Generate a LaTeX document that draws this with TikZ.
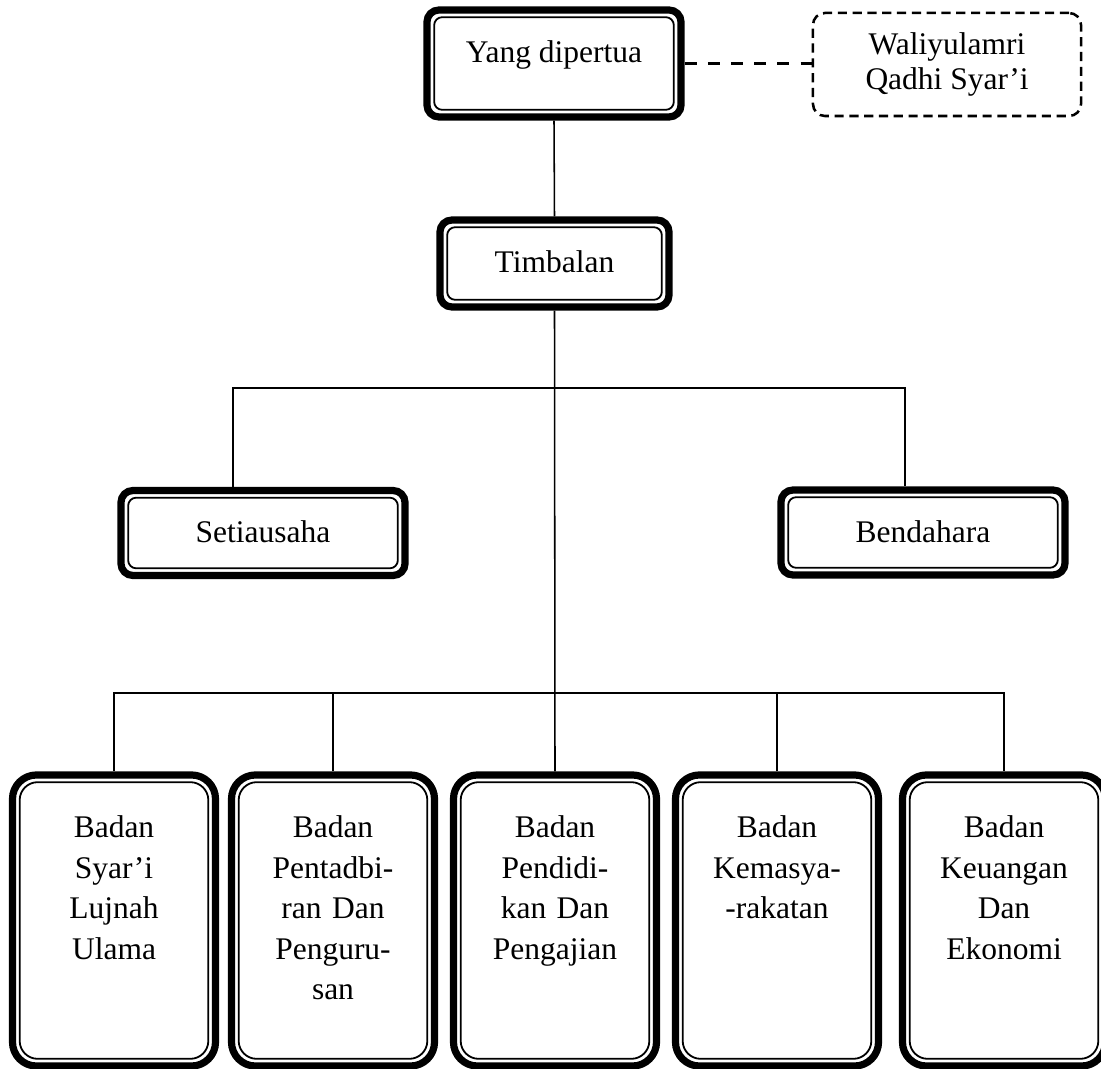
\documentclass[tikz,border=0pt]{standalone}
\usepackage{fontspec}
\setmainfont{Liberation Serif}
\tikzset{
  dalam/.style={path picture={\draw[line width=0.045cm, rounded corners=#1]
    ([shift={(0.18cm,0.18cm)}]path picture bounding box.south west) rectangle
    ([shift={(-0.18cm,-0.18cm)}]path picture bounding box.north east);}},
  kotak/.style={draw, line width=0.18cm, rounded corners=0.3cm, inner sep=0pt,
    minimum width=#1, text height=1.3cm, text depth=0.825cm, dalam=0.2cm},
  badan/.style={draw, line width=0.18cm, rounded corners=0.6cm, inner sep=0pt,
    text width=5.075cm, align=center, text height=1.575cm, text depth=5.7cm, dalam=0.45cm},
  garis/.style={draw, line width=1.1pt},
  putus/.style={draw, line width=1.5pt, dash pattern=on 0.3cm off 0.28cm}
}

\begin{document}
\begin{tikzpicture}[x=0.025cm, y=-0.025cm]
\fontsize{22.4}{28.8}\selectfont
\useasboundingbox (0,0) rectangle (1101,1069);
% atas
\node[kotak=6.35cm, text height=1.325cm, text depth=1.35cm] (yang) at (554,63.5) {Yang dipertua};
\node[draw, line width=1.8pt, dash pattern=on 0.23cm off 0.14cm, rounded corners=0.3cm,
  minimum width=6.7cm, minimum height=2.575cm, align=center,
  font=\fontsize{22.4}{24.9}\selectfont] (wali) at (947,64.5) {Waliyulamri\\Qadhi Syar’i};
\node[kotak=5.725cm, text height=1.325cm, text depth=0.85cm] (timb) at (554.5,263.5) {Timbalan};
% tengah
\node[kotak=7.1cm] (setia) at (263,533) {Setiausaha};
\node[kotak=7.1cm] (benda) at (923,532.5) {Bendahara};
% bawah
\node[badan] (b1) at (114,920.5) {Badan\\Syar’i\\Lujnah\\Ulama};
\node[badan] (b2) at (333,920.5) {Badan\\Pentadbi-\\ran Dan\\Penguru-\\san};
\node[badan] (b3) at (555,920.5) {Badan\\Pendidi-\\kan Dan\\Pengajian};
\node[badan] (b4) at (777,920.5) {Badan\\Kemasya-\\-rakatan};
\node[badan] (b5) at (1004,920.5) {Badan\\Keuangan\\Dan\\Ekonomi};

\coordinate (kiri) at (233,388);
\coordinate (kanan) at (905,388);
\coordinate (bar) at (0,693);

\path[putus] (yang.east) -- (yang.east -| wali.west);
\path[garis] (yang.south) -- (timb.north);
\path[garis] (timb.south) -- (b3.north);
\path[garis] (setia.north -| kiri) -- (kiri) -- (kanan) -- (benda.north -| kanan);
\path[garis] (b1.north) |- (b5.north |- bar) -- (b5.north);
\foreach \i in {2,4}
  \path[garis] (b\i.north) -- (b\i.north |- bar);
\end{tikzpicture}
\end{document}
